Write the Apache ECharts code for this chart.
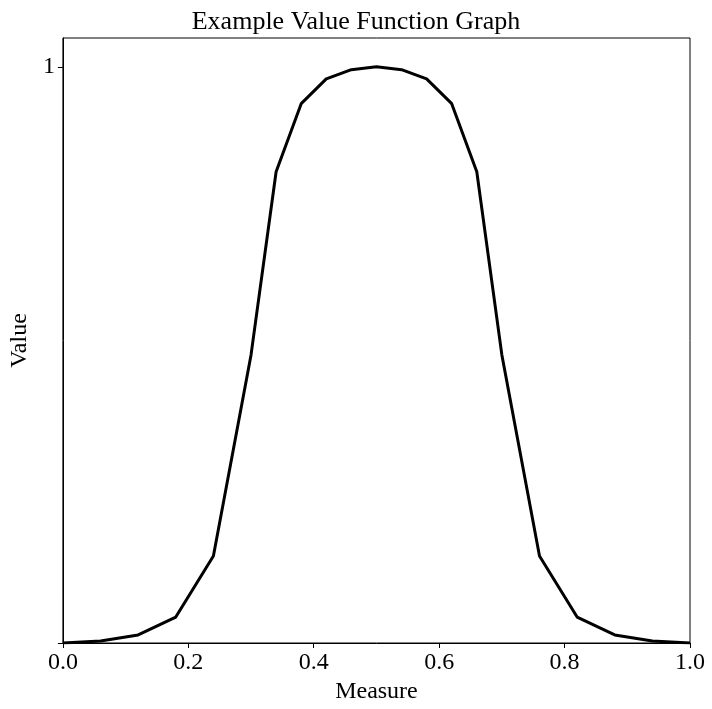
<!DOCTYPE html>
<html>
<head>
<meta charset="utf-8">
<title>Example Value Function Graph</title>
<script src="https://cdn.jsdelivr.net/npm/echarts@6/dist/echarts.min.js"></script>
<style>
html,body{margin:0;padding:0;background:#fff;}
#chart{width:712px;height:709px;}
</style>
</head>
<body>
<div id="chart"></div>
<script>
// measure positions and their values
var measures = [0, 0.06, 0.12, 0.18, 0.24, 0.30, 0.34, 0.38, 0.42, 0.46, 0.50, 0.54, 0.58, 0.62, 0.66, 0.70, 0.76, 0.82, 0.88, 0.94, 1.0];
var values = [0, 0.0035, 0.014, 0.045, 0.151, 0.5, 0.818, 0.936, 0.979, 0.995, 1, 0.995, 0.979, 0.936, 0.818, 0.5, 0.151, 0.045, 0.014, 0.0035, 0];

var font = '"Liberation Serif", "Times New Roman", serif';
var chart = echarts.init(document.getElementById('chart'));

var data = measures.map(function (m, i) { return [m, values[i]]; });

chart.setOption({
    animation: false,
    title: {
        text: 'Example Value Function Graph',
        left: 'center',
        top: 4,
        textStyle: { fontFamily: font, fontSize: 26, fontWeight: 'normal', color: '#000' }
    },
    grid: {
        left: 55, right: 22, top: 38, bottom: 66,
        show: true, borderColor: '#000', borderWidth: 1
    },
    xAxis: {
        type: 'value',
        min: 0, max: 1, interval: 0.2,
        name: 'Measure',
        nameLocation: 'middle',
        nameGap: 34,
        nameTextStyle: { fontFamily: font, fontSize: 24, color: '#000' },
        axisLine: { show: true, lineStyle: { color: '#000' } },
        axisTick: { show: true, length: 5, lineStyle: { color: '#000' } },
        splitLine: { show: false },
        axisLabel: {
            fontFamily: font, fontSize: 24, color: '#000', margin: 8,
            formatter: function (v) { return v.toFixed(1); }
        }
    },
    yAxis: {
        type: 'value',
        min: 0, max: 1.05, interval: 1,
        name: 'Value',
        nameLocation: 'middle',
        nameGap: 30,
        nameTextStyle: { fontFamily: font, fontSize: 24, color: '#000' },
        axisLine: { show: true, lineStyle: { color: '#000' } },
        axisTick: { show: true, length: 5, lineStyle: { color: '#000' } },
        splitLine: { show: false },
        axisLabel: {
            fontFamily: font, fontSize: 24, color: '#000', margin: 8,
            showMaxLabel: false,
            formatter: function (v) { return v === 1 ? '1' : ''; }
        }
    },
    series: [{
        type: 'line',
        data: data,
        showSymbol: false,
        lineStyle: { color: '#000', width: 3 }
    }]
});
</script>
</body>
</html>
